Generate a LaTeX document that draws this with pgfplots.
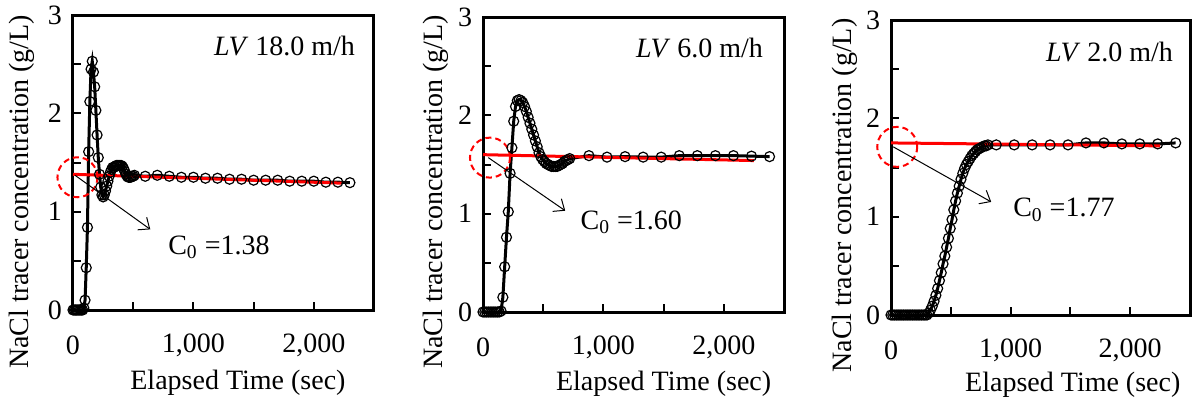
\documentclass[border=0pt]{standalone}
\usepackage{fontspec}
\setmainfont{Liberation Serif}
\usepackage{pgfplots}
\pgfplotsset{compat=1.18}
\usetikzlibrary{arrows.meta}
\newcommand{\fs}{\fontsize{14}{16.8}\selectfont}
\pgfplotsset{
  panel/.style={
    scale only axis, width=150.5pt, height=147.5pt, anchor=south west,
    xmin=0, xmax=2500, ymin=0, ymax=3,
    xtick={0,500,...,2500}, xticklabels={0,,{1,000},,{2,000},},
    ytick={0,0.5,...,3}, yticklabels={0,,1,,2,,3},
    tick align=inside, xtick pos=left, ytick pos=left,
    major tick length=4pt,
    tick style={line width=1pt, black},
    axis line style={line width=1.5pt},
    clip=false,
    /pgf/number format/assume math mode=true,
    every tick label/.append style={font=\fs},
    xticklabel style={anchor=center, yshift=-17.5pt},
    yticklabel style={anchor=center, xshift=-9pt},
    label style={font=\fs},
    xlabel={Elapsed Time (sec)},
    ylabel={NaCl tracer concentration (g/L)},
  },
  data/.style={black, line width=1.5pt, mark=o, mark size=2.5pt,
    mark options={line width=0.6pt}},
  fit/.style={red, line width=1.5pt},
}
\tikzset{
  c0circ/.style={red, line width=1pt, dash pattern=on 3pt off 2pt},
  c0arrow/.style={-{Straight Barb[length=4.6pt,width=7.7pt]}, line width=0.5pt},
}
\begin{document}
\begin{tikzpicture}
\useasboundingbox (-36.5pt,-49pt) rectangle (559.5pt,155pt);

% LV 18.0 m/h
\begin{axis}[panel, at={(0pt,0pt)},
  xlabel style={at={(axis description cs:0.548,0)}, anchor=center, yshift=-36.5pt},
  ylabel style={at={(axis description cs:-0.169,0.40)}, anchor=center}]
\addplot[data] coordinates {
 (0,0)(10,0)(20,0)(30,0)(40,0)(50,0)(60,0)(70,0)(80,0)(90,0.02)
 (100,0.10)(110,0.43)(120,0.84)(130,1.61)(140,2.12)(150,2.45)(160,2.53)
 (170,2.42)(180,2.27)(190,2.03)(200,1.78)(210,1.55)(220,1.38)(230,1.25)
 (240,1.17)(250,1.15)(260,1.17)(270,1.21)(280,1.26)(290,1.31)(300,1.36)
 (310,1.40)(320,1.43)(330,1.45)(340,1.45)(350,1.46)(360,1.47)(370,1.47)
 (380,1.47)(390,1.47)(400,1.47)(410,1.46)(420,1.44)(430,1.41)(440,1.38)
 (450,1.36)(460,1.35)(470,1.35)(480,1.35)(490,1.36)(500,1.36)(510,1.37)
 (600,1.36)(700,1.37)(800,1.36)(900,1.35)(1000,1.35)(1100,1.34)(1200,1.34)
 (1300,1.33)(1400,1.33)(1500,1.32)(1600,1.32)(1700,1.32)(1800,1.31)
 (1900,1.31)(2000,1.31)(2100,1.30)(2200,1.30)(2300,1.295)};
\addplot[fit] coordinates {(0,1.38)(2230,1.29)};
\draw[c0circ] (axis cs:37,1.35) circle[radius=10pt];
\draw[c0arrow] (axis cs:17,1.37) -- (axis cs:642,0.82);
\node[anchor=west, font=\fs] at (axis cs:733,0.64) {C\textsubscript{0} =1.38};
\node[anchor=east, font=\fs, xshift=-6pt, yshift=-15.5pt] at (rel axis cs:1,1) {\textit{LV} 18.0 m/h};
\end{axis}

% LV 6.0 m/h
\begin{axis}[panel, at={(205pt,-1pt)},
  xlabel style={at={(axis description cs:0.60,0)}, anchor=center, yshift=-36pt},
  ylabel style={at={(axis description cs:-0.156,0.407)}, anchor=center}]
\addplot[data] coordinates {
 (0,0)(15,0)(30,0)(45,0)(60,0)(75,0)(90,0)(105,0)(120,0)(135,0)(150,0.01)
 (165,0.15)(180,0.46)(195,0.76)(210,1.02)(225,1.41)(240,1.67)(255,1.94)
 (270,2.09)(285,2.15)(300,2.16)(315,2.15)(330,2.13)(345,2.09)(360,2.04)
 (375,1.98)(390,1.92)(405,1.86)(420,1.80)(435,1.74)(450,1.68)(465,1.62)
 (480,1.58)(495,1.55)(510,1.53)(525,1.51)(540,1.50)(555,1.49)(570,1.48)
 (585,1.48)(600,1.48)(615,1.48)(630,1.49)(645,1.50)(660,1.51)(675,1.53)
 (690,1.54)(705,1.55)(720,1.56)
 (880,1.59)(1030,1.575)(1180,1.58)(1330,1.575)(1480,1.575)(1630,1.59)
 (1780,1.59)(1930,1.59)(2080,1.59)(2230,1.585)(2380,1.58)};
\addplot[fit] coordinates {(0,1.60)(2250,1.54)};
\draw[c0circ] (axis cs:58,1.57) circle[radius=10pt];
\draw[c0arrow] (axis cs:44,1.57) -- (axis cs:683,1.03);
\node[anchor=west, font=\fs] at (axis cs:752,0.915) {C\textsubscript{0} =1.60};
\node[anchor=east, font=\fs, xshift=-7pt, yshift=-15.5pt] at (rel axis cs:1,1) {\textit{LV} 6.0 m/h};
\end{axis}

% LV 2.0 m/h
\begin{axis}[panel, width=149.5pt, at={(409pt,-2.5pt)},
  xlabel style={at={(axis description cs:0.608,0)}, anchor=center, yshift=-35pt},
  ylabel style={at={(axis description cs:-0.154,0.405)}, anchor=center}]
\addplot[data] coordinates {
 (0,0)(15,0)(30,0)(45,0)(60,0)(75,0)(90,0)(105,0)(120,0)(135,0)(150,0)
 (165,0)(180,0)(195,0)(210,0)(225,0)(240,0)(255,0)(270,0)(285,0)(300,0)
 (315,0.02)(330,0.05)(345,0.09)(360,0.14)(375,0.20)(390,0.27)(405,0.35)
 (420,0.43)(435,0.52)(450,0.60)(465,0.69)(480,0.78)(495,0.88)(510,0.97)
 (525,1.07)(540,1.16)(555,1.24)(570,1.31)(585,1.38)(600,1.44)(615,1.49)
 (630,1.53)(645,1.56)(660,1.59)(675,1.62)(690,1.64)(705,1.66)(720,1.68)
 (735,1.69)(750,1.70)(765,1.71)(780,1.72)(795,1.72)(810,1.73)
 (880,1.73)(1030,1.73)(1180,1.73)(1330,1.73)(1480,1.73)(1630,1.75)
 (1780,1.75)(1930,1.74)(2080,1.74)(2230,1.74)(2380,1.75)};
\addplot[fit] coordinates {(0,1.75)(2250,1.72)};
\draw[c0circ] (axis cs:52,1.71) circle[radius=10pt];
\draw[c0arrow] (axis cs:19,1.71) -- (axis cs:838,1.15);
\node[anchor=west, font=\fs] at (axis cs:963,1.07) {C\textsubscript{0} =1.77};
\node[anchor=east, font=\fs, xshift=-5pt, yshift=-16pt] at (rel axis cs:1,1) {\textit{LV} 2.0 m/h};
\end{axis}
\end{tikzpicture}
\end{document}
